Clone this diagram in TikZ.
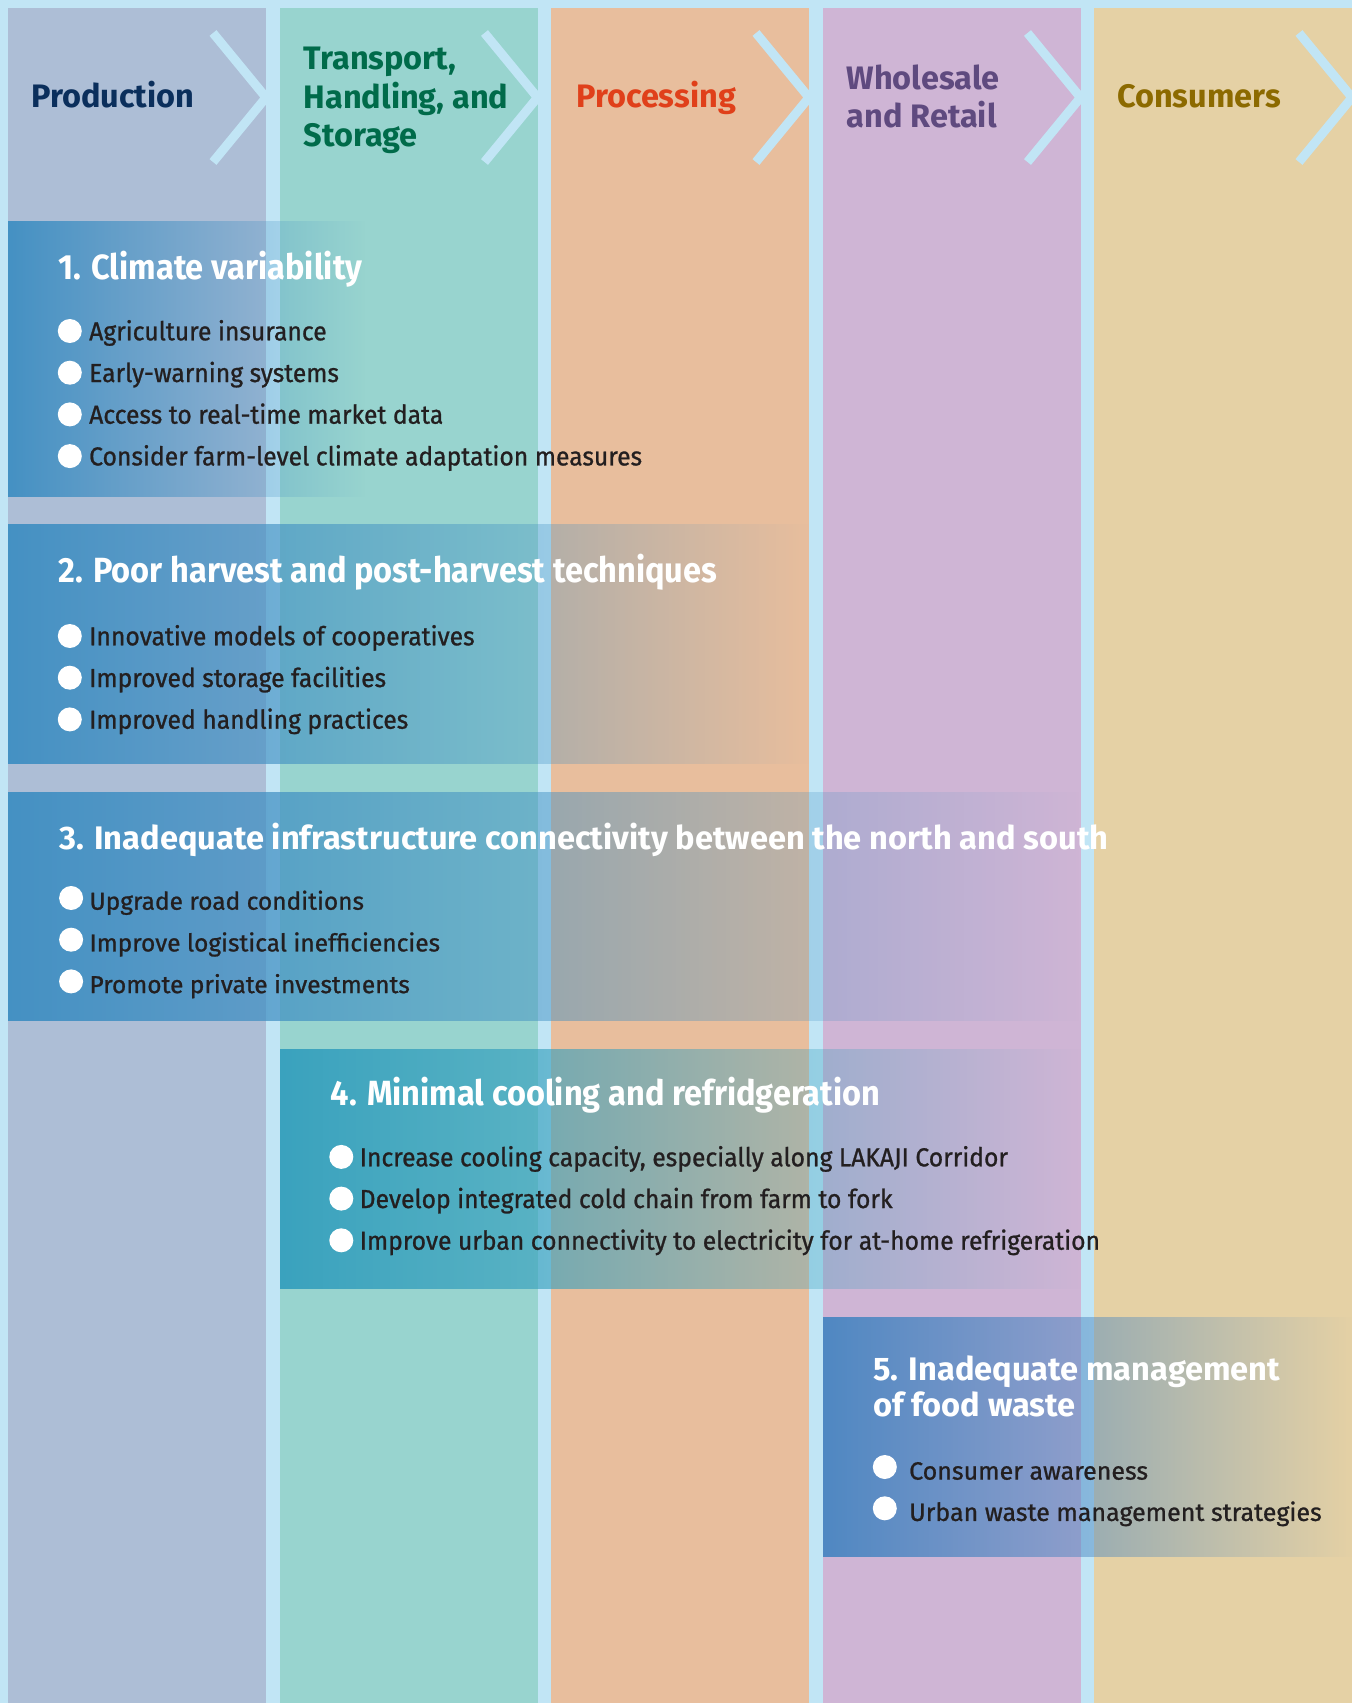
\documentclass[tikz,border=0pt]{standalone}
\usepackage{fontspec}
\setmainfont{Fira Sans}
\newfontfamily\narrowsans[FakeStretch=0.93]{Fira Sans}
\newfontfamily\itemsans[FakeStretch=0.95, FakeBold=0.9]{Fira Sans}
\newfontfamily\wideitemsans[FakeBold=0.9]{Fira Sans}
\usetikzlibrary{positioning, fadings}

% lane and text colours
\definecolor{sky}{HTML}{C1E5F5}
\definecolor{prodbg}{HTML}{ADBED6}
\definecolor{tranbg}{HTML}{98D4CF}
\definecolor{procbg}{HTML}{E8BE9D}
\definecolor{retbg}{HTML}{CFB5D5}
\definecolor{consbg}{HTML}{E5D1A5}
\definecolor{prodfg}{HTML}{0B2F5C}
\definecolor{tranfg}{HTML}{006B4A}
\definecolor{procfg}{HTML}{E0401A}
\definecolor{retfg}{HTML}{5F4A7F}
\definecolor{consfg}{HTML}{8C6A00}
\definecolor{issueblue}{HTML}{3E8EC2}
\definecolor{issueteal}{HTML}{349FBD}
\definecolor{issuewaste}{HTML}{4785C1}
\definecolor{ink}{HTML}{231F20}

% issue panels fade out towards the right
\tikzfading[name=fade east, left color=transparent!6, right color=transparent!100]

\tikzset{
  lane/.style={fill=#1},
  chev/.style={draw=sky, line width=9pt},
  head/.style={anchor=base west, align=left, inner sep=0pt,
    font=\bfseries\fontsize{32.5}{38.4}\selectfont},
  issue/.style={fill=#1, path fading=fade east},
  ttl/.style={anchor=base west, align=left, inner sep=0pt, text=white,
    font=\narrowsans\bfseries\fontsize{35}{36}\selectfont},
  wide ttl/.style={ttl, font=\bfseries\fontsize{32.6}{36}\selectfont},
  itm/.style={anchor=base west, inner sep=0pt, text=ink,
    font=\itemsans\fontsize{26}{30}\selectfont},
  wide itm/.style={itm, font=\wideitemsans\fontsize{24.5}{30}\selectfont},
  blt/.style={circle, fill=white, inner sep=0pt, minimum size=24pt},
}

\begin{document}
\begin{tikzpicture}[x=1pt, y=-1pt]
\useasboundingbox (0,0) rectangle (1352,1703);
\fill[sky] (0,0) rectangle (1352,1703);

% the five lanes, each closed by a chevron
\foreach \bg [count=\i from 0] in {prodbg, tranbg, procbg, retbg, consbg} {
  \fill[lane=\bg] (8+271.5*\i, 8) rectangle ++(258, 1695);
  \draw[chev] (213+271.5*\i, 33) -- ++(53, 64.5) -- ++(-53, 64.5);
}

% lane headings (base = last line)
\node[head, text=prodfg] (prod) at (31,107) {Production};
\node[head, text=tranfg] (tran) at (303.5,146.7) {Transport,\\Handling, and\\Storage};
\node[head, text=procfg] (proc) at (576,107) {Processing};
\node[head, text=retfg] (ret) at (846.5,127.7) {Wholesale\\and Retail};
\node[head, text=consfg] (cons) at (1117,107) {Consumers};

% 1. climate
\begin{scope}[shift={(8,221)}]
  \fill[issue=issueblue] (0,0) rectangle (357,276);
  \node[ttl] (clim) at (50,58) {1. Climate variability};
  \foreach \txt [count=\i] in {Agriculture insurance, Early-warning systems,
      Access to real-time market data, Consider farm-level climate adaptation measures} {
    \node[itm] (clim-\i) at (81, 77.6+41.7*\i) {\txt};
    \node[blt, left=7pt of clim-\i.base west, yshift=9.3pt] (clim-b\i) {};
  }
\end{scope}

% 2. harvest
\begin{scope}[shift={(8,524)}]
  \fill[issue=issueblue] (0,0) rectangle (801,240);
  \node[ttl] (harv) at (50,58) {2. Poor harvest and post-harvest techniques};
  \foreach \txt [count=\i] in {Innovative models of cooperatives,
      Improved storage facilities, Improved handling practices} {
    \node[itm] (harv-\i) at (81, 79.6+41.7*\i) {\txt};
    \node[blt, left=7pt of harv-\i.base west, yshift=9.3pt] (harv-b\i) {};
  }
\end{scope}

% 3. infrastructure
\begin{scope}[shift={(8,792)}]
  \fill[issue=issueblue] (0,0) rectangle (1072,229);
  \node[wide ttl] (infra) at (51,57) {3. Inadequate infrastructure connectivity between the north and south};
  \foreach \txt [count=\i] in {Upgrade road conditions,
      Improve logistical inefficiencies, Promote private investments} {
    \node[wide itm] (infra-\i) at (81.3, 76+41.7*\i) {\txt};
    \node[blt, left=6pt of infra-\i.base west, yshift=11.7pt] (infra-b\i) {};
  }
\end{scope}

% 4. cold chain
\begin{scope}[shift={(279.5,1049)}]
  \fill[issue=issueteal] (0,0) rectangle (801,240);
  \node[ttl] (cool) at (51,56) {4. Minimal cooling and refridgeration};
  \foreach \txt [count=\i] in {{Increase cooling capacity, especially along LAKAJI Corridor},
      Develop integrated cold chain from farm to fork,
      Improve urban connectivity to electricity for at-home refrigeration} {
    \node[itm] (cool-\i) at (80, 75.6+41.7*\i) {\txt};
    \node[blt, left=6pt of cool-\i.base west, yshift=9.4pt] (cool-b\i) {};
  }
\end{scope}

% 5. food waste
\begin{scope}[shift={(822.5,1317)}]
  \fill[issue=issuewaste] (0,0) rectangle (529.5,240);
  \node[wide ttl] (waste) at (50.5,99) {5. Inadequate management\\of food waste};
  \foreach \txt [count=\i] in {Consumer awareness, Urban waste management strategies} {
    \node[wide itm, font=\wideitemsans\fontsize{25}{30}\selectfont] (waste-\i) at (86.5, 121.3+41.3*\i) {\txt};
    \node[blt, left=12pt of waste-\i.base west, yshift=12.6pt] (waste-b\i) {};
  }
\end{scope}
\end{tikzpicture}
\end{document}
